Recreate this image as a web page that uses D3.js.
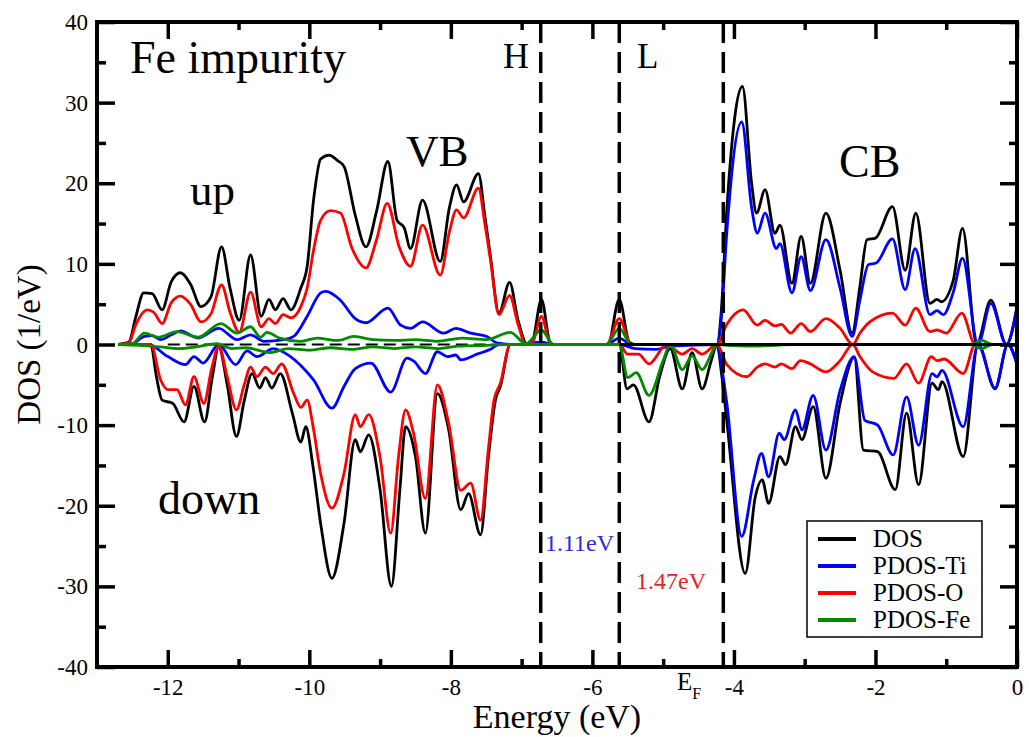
<!DOCTYPE html>
<html>
<head>
<meta charset="utf-8">
<script src="https://cdn.jsdelivr.net/npm/d3@7"></script>
<style>
  html, body { margin: 0; padding: 0; background: #fff; }
  svg { display: block; }
</style>
</head>
<body>
<svg id="chart" width="1029" height="737"></svg>
<script>
// Spin-resolved total and projected density of states, Fe-doped TiO2.
// Each series: [energy (eV), DOS (1/eV)]; spin-down values are negative.
const dosUp = [[-12.70,0],[-12.55,0.3],[-12.45,3.5],[-12.34,6.4],[-12.22,6.3],[-12.08,4.3],[-11.95,7.8],[-11.82,8.9],[-11.68,7.5],[-11.53,4.7],[-11.39,5.9],[-11.24,12.1],[-11.12,7.0],[-10.99,3.0],[-10.83,11.1],[-10.68,3.5],[-10.57,5.6],[-10.48,4.3],[-10.37,5.7],[-10.26,4.3],[-10.12,7.0],[-10.03,9.7],[-9.94,17.9],[-9.84,23.0],[-9.72,23.5],[-9.60,22.8],[-9.51,22.1],[-9.35,16.0],[-9.20,12.1],[-9.05,16.5],[-8.89,22.7],[-8.76,15.4],[-8.66,14.5],[-8.57,11.9],[-8.40,17.9],[-8.15,10.3],[-8.02,17.0],[-7.92,19.8],[-7.82,17.7],[-7.61,21.2],[-7.52,16.0],[-7.44,10.9],[-7.32,3.9],[-7.17,7.7],[-7.05,3.0],[-6.92,0],[-6.85,0.3],[-6.72,5.6],[-6.60,0.3],[-6.55,0],[-5.78,0],[-5.62,5.6],[-5.48,0.3],[-5.40,0],[-4.24,0],[-4.18,4.0],[-4.10,16.7],[-3.88,32.0],[-3.75,20.0],[-3.68,16.3],[-3.56,19.2],[-3.42,13.8],[-3.35,14.8],[-3.18,7.6],[-3.05,13.4],[-2.92,7.6],[-2.70,16.3],[-2.50,9.2],[-2.33,1.4],[-2.22,7.2],[-2.12,13.0],[-2.00,13.2],[-1.76,17.1],[-1.58,9.2],[-1.43,16.3],[-1.23,5.1],[-1.13,5.6],[-1.07,5.3],[-0.90,8.0],[-0.77,14.4],[-0.57,0],[-0.37,5.5],[-0.15,0],[0,4.7]];
const dosDown = [[-12.70,0],[-12.24,0],[-12.16,-4.0],[-12.08,-6.9],[-11.93,-7.3],[-11.77,-9.6],[-11.63,-5.2],[-11.48,-9.6],[-11.37,-4.0],[-11.28,-0.3],[-11.16,-5.0],[-11.03,-11.4],[-10.92,-7.0],[-10.81,-3.6],[-10.70,-5.4],[-10.62,-4.1],[-10.53,-5.4],[-10.41,-3.6],[-10.24,-8.5],[-10.12,-12.1],[-10.05,-10.2],[-9.95,-15.0],[-9.84,-22.2],[-9.68,-29.0],[-9.51,-22.2],[-9.35,-11.8],[-9.28,-13.3],[-9.16,-11.2],[-9.00,-18.0],[-8.84,-30.0],[-8.72,-18.0],[-8.64,-10.2],[-8.50,-13.9],[-8.36,-23.4],[-8.19,-6.1],[-8.03,-10.6],[-7.86,-20.5],[-7.75,-18.5],[-7.58,-23.6],[-7.47,-14.0],[-7.37,-6.9],[-7.30,-5.2],[-7.16,0],[-5.62,0],[-5.51,-5.5],[-5.42,-5.0],[-5.20,-9.6],[-5.05,-4.0],[-4.90,-0.5],[-4.73,-5.5],[-4.59,-1.0],[-4.45,-5.5],[-4.32,-2.0],[-4.24,0],[-4.17,-4.0],[-4.10,-9.5],[-3.84,-28.4],[-3.70,-19.0],[-3.60,-16.8],[-3.51,-19.7],[-3.35,-13.9],[-3.27,-14.9],[-3.13,-10.2],[-3.04,-11.8],[-2.88,-7.7],[-2.70,-16.6],[-2.50,-7.3],[-2.30,-1.6],[-2.17,-13.1],[-1.97,-13.3],[-1.72,-18.0],[-1.56,-8.5],[-1.39,-17.4],[-1.20,-4.8],[-1.11,-5.6],[-1.06,-4.6],[-0.76,-13.9],[-0.55,0],[-0.31,-5.5],[-0.13,0],[0,-2.4]];
const tiUp = [[-12.70,0],[-12.50,0.1],[-12.33,1.0],[-12.22,1.1],[-12.10,0.6],[-11.95,1.2],[-11.82,1.7],[-11.57,0.8],[-11.28,2.0],[-11.02,0.6],[-10.83,1.2],[-10.64,0.4],[-10.36,0.6],[-10.22,1.0],[-10.03,3.5],[-9.84,6.4],[-9.77,6.6],[-9.56,5.5],[-9.35,3.2],[-9.20,2.7],[-8.89,4.5],[-8.71,2.4],[-8.57,2.0],[-8.40,2.8],[-8.10,1.4],[-7.93,2.0],[-7.72,1.4],[-7.49,1.0],[-7.35,0.2],[-7.10,0],[-6.72,0.3],[-6.55,0],[-5.80,0],[-5.62,0.8],[-5.45,0],[-4.24,0],[-4.18,3.0],[-4.10,14.0],[-3.89,27.6],[-3.75,17.0],[-3.67,13.8],[-3.56,16.3],[-3.40,11.9],[-3.35,12.5],[-3.18,6.4],[-3.05,10.9],[-2.92,6.7],[-2.70,13.0],[-2.50,7.0],[-2.33,1.0],[-2.22,5.5],[-2.10,9.9],[-1.99,10.1],[-1.76,13.1],[-1.58,6.8],[-1.44,11.9],[-1.23,3.7],[-1.13,4.2],[-1.04,3.7],[-0.90,6.5],[-0.77,10.7],[-0.55,0],[-0.37,5.1],[-0.15,0],[0,4.5]];
const tiDown = [[-12.70,0],[-12.27,0],[-12.00,-1.5],[-11.75,-2.5],[-11.63,-1.5],[-11.50,-2.3],[-11.28,0],[-11.04,-2.5],[-10.88,-0.8],[-10.74,-1.5],[-10.51,-0.5],[-10.28,-1.4],[-10.12,-2.6],[-9.94,-4.4],[-9.68,-7.9],[-9.51,-5.2],[-9.35,-3.0],[-9.13,-2.3],[-8.85,-5.9],[-8.62,-1.7],[-8.52,-2.1],[-8.36,-3.6],[-8.19,-0.9],[-8.05,-1.5],[-7.93,-1.3],[-7.86,-1.9],[-7.63,-1.2],[-7.44,-0.6],[-7.32,0],[-5.62,0],[-5.40,-0.5],[-5.10,-0.6],[-4.90,-0.2],[-4.24,0],[-4.17,-3.0],[-4.10,-7.3],[-3.89,-23.8],[-3.72,-16.8],[-3.61,-13.5],[-3.51,-16.4],[-3.36,-11.0],[-3.29,-11.8],[-3.13,-8.1],[-3.04,-10.6],[-2.88,-6.3],[-2.70,-13.1],[-2.50,-5.7],[-2.30,-1.5],[-2.15,-9.4],[-1.97,-10.0],[-1.75,-13.7],[-1.56,-6.5],[-1.39,-12.5],[-1.20,-3.6],[-1.13,-4.0],[-1.06,-3.2],[-0.76,-10.2],[-0.55,0],[-0.31,-5.4],[-0.13,0],[0,-2.4]];
const oUp = [[-12.70,0],[-12.55,0.2],[-12.45,2.5],[-12.29,4.3],[-12.20,4.0],[-12.08,2.6],[-11.95,5.2],[-11.82,6.0],[-11.68,5.0],[-11.53,2.8],[-11.39,3.8],[-11.24,7.4],[-11.12,4.0],[-10.99,1.5],[-10.83,6.5],[-10.68,2.2],[-10.57,3.2],[-10.48,2.6],[-10.37,3.7],[-10.26,3.3],[-10.12,4.7],[-10.03,7.0],[-9.94,11.7],[-9.84,15.4],[-9.70,16.6],[-9.56,16.3],[-9.40,12.0],[-9.20,9.5],[-9.05,13.0],[-8.90,17.5],[-8.73,12.1],[-8.57,9.7],[-8.40,14.8],[-8.15,8.6],[-8.02,14.0],[-7.92,16.7],[-7.82,15.7],[-7.61,19.4],[-7.52,15.0],[-7.44,10.5],[-7.32,3.7],[-7.17,6.1],[-7.05,2.5],[-6.94,0],[-6.85,0.2],[-6.72,3.5],[-6.60,0.2],[-6.55,0],[-5.80,0],[-5.62,3.2],[-5.45,0],[-4.24,0],[-4.10,2.5],[-3.87,4.3],[-3.67,2.4],[-3.56,3.0],[-3.42,2.3],[-3.33,2.5],[-3.20,1.4],[-3.05,2.6],[-2.92,1.6],[-2.70,3.2],[-2.50,2.0],[-2.32,0],[-2.22,1.4],[-2.08,2.8],[-1.76,3.9],[-1.58,2.4],[-1.43,4.5],[-1.23,1.6],[-1.13,1.8],[-1.00,1.4],[-0.78,3.9],[-0.59,0],[0,0]];
const oDown = [[-12.70,0],[-12.24,0],[-12.10,-4.4],[-12.00,-5.6],[-11.87,-5.6],[-11.75,-7.5],[-11.63,-4.0],[-11.49,-7.3],[-11.38,-3.0],[-11.28,-0.2],[-11.16,-4.0],[-11.03,-8.1],[-10.92,-5.0],[-10.83,-2.8],[-10.74,-4.0],[-10.62,-2.8],[-10.51,-3.6],[-10.39,-2.4],[-10.22,-6.1],[-10.12,-7.8],[-10.03,-6.9],[-9.95,-10.0],[-9.84,-16.0],[-9.68,-20.3],[-9.51,-16.0],[-9.35,-8.7],[-9.28,-10.2],[-9.16,-8.7],[-9.00,-14.0],[-8.85,-23.4],[-8.74,-14.0],[-8.64,-8.1],[-8.53,-10.9],[-8.36,-19.1],[-8.19,-5.0],[-8.03,-9.8],[-7.86,-18.1],[-7.72,-17.2],[-7.58,-21.8],[-7.47,-13.0],[-7.39,-6.9],[-7.30,-4.8],[-7.16,0],[-5.62,0],[-5.50,-1.2],[-5.35,-1.2],[-5.20,-2.4],[-4.95,0],[-4.73,-1.2],[-4.59,-0.5],[-4.45,-1.2],[-4.24,0],[-4.10,-2.5],[-3.82,-4.0],[-3.67,-2.8],[-3.56,-2.4],[-3.42,-2.8],[-3.33,-2.4],[-3.18,-3.0],[-3.06,-2.0],[-2.92,-2.4],[-2.70,-3.4],[-2.50,-2.0],[-2.32,0],[-2.22,-1.5],[-2.04,-3.4],[-1.74,-4.2],[-1.56,-2.4],[-1.39,-4.8],[-1.21,-1.5],[-1.13,-2.0],[-1.03,-1.8],[-0.76,-3.6],[-0.59,0],[0,0]];
const feUp = [[-12.70,0],[-12.50,0.1],[-12.33,1.4],[-12.14,0.9],[-11.87,1.6],[-11.57,0.9],[-11.25,2.6],[-11.02,1.4],[-10.83,2.2],[-10.69,0.9],[-10.60,1.5],[-10.42,0.8],[-10.12,0.4],[-9.89,0.8],[-9.60,0.5],[-9.37,1.0],[-9.10,0.6],[-8.80,0.5],[-8.50,0.6],[-8.20,0.4],[-7.84,0.8],[-7.50,0.6],[-7.16,1.5],[-6.94,0.1],[-6.72,1.8],[-6.55,0],[-5.80,0],[-5.62,2.0],[-5.45,0],[-4.24,0],[-0.65,0],[-0.50,0.5],[-0.35,0],[0,0]];
const feDown = [[-12.70,0],[-12.40,-0.1],[-12.10,-0.3],[-11.85,-0.5],[-11.60,-0.3],[-11.30,0.1],[-11.10,-0.5],[-10.90,-0.4],[-10.56,-1.0],[-10.30,-0.5],[-10.00,-0.7],[-9.70,-0.4],[-9.40,-0.6],[-9.10,-0.3],[-8.80,-0.5],[-8.50,-0.3],[-8.20,-0.5],[-7.90,-0.2],[-7.50,-0.1],[-7.20,0],[-5.62,0],[-5.50,-4.1],[-5.38,-3.5],[-5.20,-6.3],[-5.00,-2.0],[-4.90,0],[-4.73,-3.1],[-4.59,-1.4],[-4.45,-3.1],[-4.30,-0.8],[-4.24,0],[-4.10,-0.1],[-3.80,-0.2],[-3.40,-0.1],[-3.20,0],[-0.65,0],[-0.50,-0.5],[-0.35,0],[0,0]];

// Band-edge markers (eV): occupied H state, empty L state, conduction-band minimum
const edgeLines = [-6.73, -5.62, -4.15];
const gapLabels = [{text: "1.11eV", color: "#2a2ad8"}, {text: "1.47eV", color: "#e42222"}];

const xTicksMajor = [-12, -10, -8, -6, -4, -2, 0];
const xTicksMinor = [-11, -9, -7, -5, -3, -1];
const yTicksMajor = [-40, -30, -20, -10, 0, 10, 20, 30, 40];
const yTicksMinor = [-35, -25, -15, -5, 5, 15, 25, 35];

const seriesNames = ["DOS", "PDOS-Ti", "PDOS-O", "PDOS-Fe"];
const seriesColors = ["#000000", "#0000ff", "#ff0000", "#008a00"];

const FONT = "'Liberation Serif', 'Times New Roman', Times, 'Nimbus Roman', 'DejaVu Serif', serif";

const svg = d3.select("#chart");
const L = 97, R = 1017, T = 22, B = 667;
const x = d3.scaleLinear().domain([-13, 0]).range([L, R]);
const y = d3.scaleLinear().domain([-40, 40]).range([B, T]);

svg.append("clipPath").attr("id", "plotclip")
  .append("rect").attr("x", L).attr("y", T).attr("width", R - L).attr("height", B - T);

const plot = svg.append("g").attr("clip-path", "url(#plotclip)");

// dashed zero reference across the valence band
plot.append("line")
  .attr("x1", x(-12.0)).attr("x2", x(-7.4))
  .attr("y1", y(0)).attr("y2", y(0))
  .attr("stroke", "#000").attr("stroke-width", 2.2)
  .attr("stroke-dasharray", "12,6");

const line = d3.line().x(d => x(d[0])).y(d => y(d[1])).curve(d3.curveMonotoneX);

const curves = [
  [dosUp, 0], [dosDown, 0],
  [tiUp, 1], [tiDown, 1],
  [oUp, 2], [oDown, 2],
  [feUp, 3], [feDown, 3]
];
curves.forEach(([data, k]) => {
  plot.append("path").datum(data)
    .attr("d", line)
    .attr("fill", "none")
    .attr("stroke", seriesColors[k])
    .attr("stroke-width", 2.8)
    .attr("stroke-linejoin", "round");
});

// solid zero line from the L state through the conduction band
plot.append("line")
  .attr("x1", x(-5.62)).attr("x2", x(0))
  .attr("y1", y(0)).attr("y2", y(0))
  .attr("stroke", "#000").attr("stroke-width", 3);

// vertical dashed band-edge lines
svg.selectAll("line.edge").data(edgeLines).enter().append("line")
  .attr("class", "edge")
  .attr("x1", d => x(d)).attr("x2", d => x(d))
  .attr("y1", T).attr("y2", B)
  .attr("stroke", "#000").attr("stroke-width", 3.5)
  .attr("stroke-dasharray", "21,9");

// axes: ticks drawn inward on all four sides
const fmt = d => String(d);
function ticks(axisFn, scale, values, size, transform, labels) {
  const g = svg.append("g").attr("transform", transform)
    .call(axisFn(scale).tickValues(values).tickSize(size).tickSizeOuter(0)
      .tickFormat(labels ? fmt : () => ""));
  g.attr("font-family", FONT);
  g.select(".domain").remove();
  g.selectAll(".tick line").attr("stroke", "#000").attr("stroke-width", 3.5);
  return g;
}
const xb = ticks(d3.axisBottom, x, xTicksMajor, -17, `translate(0,${B})`, true);
xb.selectAll(".tick text").attr("y", 28).attr("dy", 0)
  .attr("font-size", 23).attr("font-family", FONT).attr("fill", "#000");
ticks(d3.axisBottom, x, xTicksMinor, -8, `translate(0,${B})`, false);
ticks(d3.axisTop, x, xTicksMajor, -17, `translate(0,${T})`, false);
ticks(d3.axisTop, x, xTicksMinor, -8, `translate(0,${T})`, false);

const yl = ticks(d3.axisLeft, y, yTicksMajor, -18, `translate(${L},0)`, true);
yl.selectAll(".tick text").attr("x", -9).attr("dy", "0.33em")
  .attr("font-size", 23).attr("font-family", FONT).attr("fill", "#000");
ticks(d3.axisLeft, y, yTicksMinor, -9, `translate(${L},0)`, false);
ticks(d3.axisRight, y, yTicksMajor, -17, `translate(${R},0)`, false);
ticks(d3.axisRight, y, yTicksMinor, -8, `translate(${R},0)`, false);

// frame
svg.append("rect").attr("x", L).attr("y", T).attr("width", R - L).attr("height", B - T)
  .attr("fill", "none").attr("stroke", "#000").attr("stroke-width", 4);

function label(txt, px, py, size, color, anchor) {
  return svg.append("text").attr("x", px).attr("y", py)
    .attr("font-family", FONT).attr("font-size", size)
    .attr("fill", color || "#000").attr("text-anchor", anchor || "start").text(txt);
}

// axis titles
label("Energy (eV)", (L + R) / 2, 728, 34, "#000", "middle");
svg.append("text").attr("transform", `translate(40,${(T + B) / 2}) rotate(-90)`)
  .attr("text-anchor", "middle").attr("font-family", FONT).attr("font-size", 33)
  .text("DOS (1/eV)");

// Fermi level label
const ef = svg.append("text").attr("x", 677).attr("y", 690)
  .attr("font-family", FONT).attr("font-size", 25);
ef.append("tspan").text("E");
ef.append("tspan").attr("dy", 9).attr("font-size", 16).text("F");

// annotations
const ann = [
  {t: "Fe impurity", x: 130, y: 73, s: 46},
  {t: "up", x: 190, y: 205, s: 45},
  {t: "VB", x: 406, y: 166, s: 45},
  {t: "CB", x: 839, y: 177, s: 46},
  {t: "down", x: 158, y: 514, s: 46},
  {t: "H", x: 503, y: 68, s: 36},
  {t: "L", x: 637, y: 68, s: 35}
];
ann.forEach(a => label(a.t, a.x, a.y, a.s));

label(gapLabels[0].text, 545, 551, 24, gapLabels[0].color);
label(gapLabels[1].text, 636, 589, 24, gapLabels[1].color);

// legend
const lg = svg.append("g");
lg.append("rect").attr("x", 807).attr("y", 521).attr("width", 175).attr("height", 116)
  .attr("fill", "#fff").attr("stroke", "#000").attr("stroke-width", 1.5);
seriesNames.forEach((name, i) => {
  const yy = 539 + i * 27;
  lg.append("line").attr("x1", 818).attr("x2", 856).attr("y1", yy).attr("y2", yy)
    .attr("stroke", seriesColors[i]).attr("stroke-width", 4);
  lg.append("text").attr("x", 873).attr("y", yy + 8)
    .attr("font-family", FONT).attr("font-size", 25).text(name);
});
</script>
</body>
</html>
